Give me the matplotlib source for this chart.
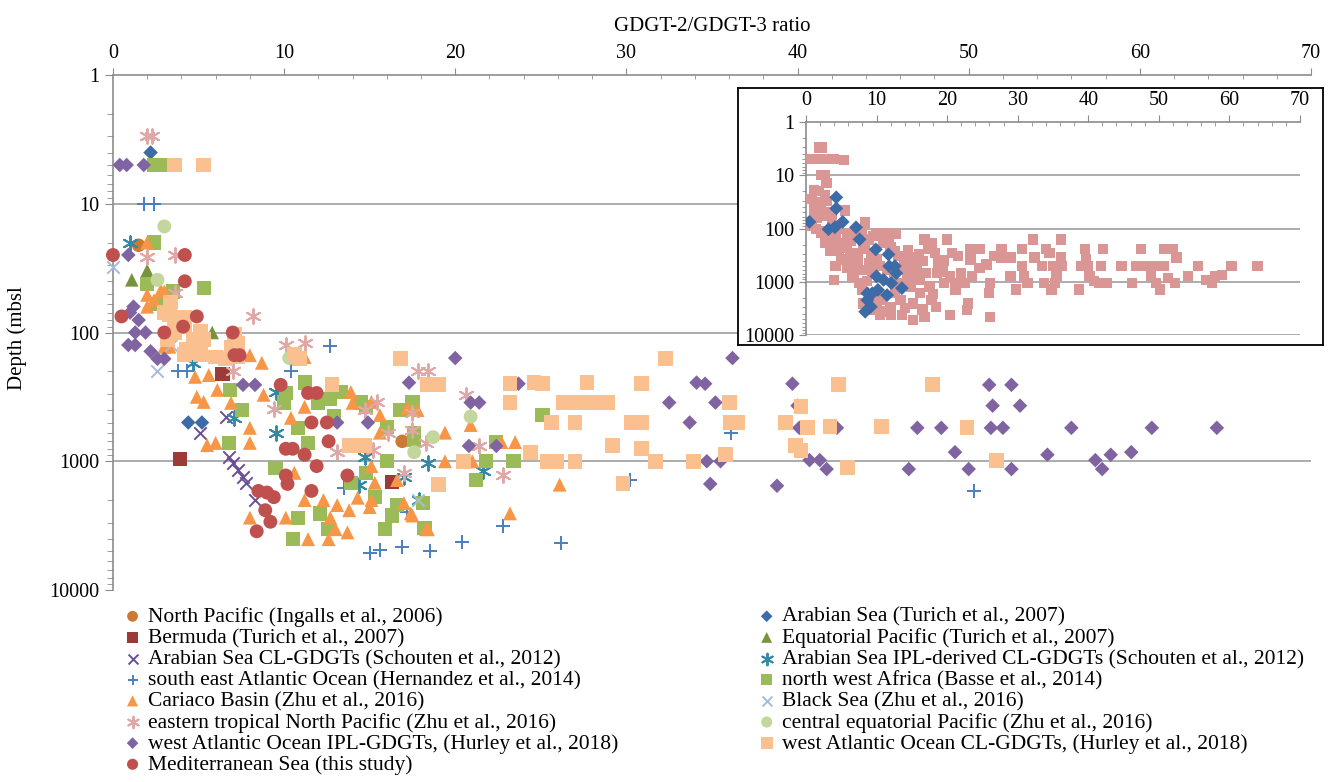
import numpy as np
import matplotlib.pyplot as plt
import matplotlib.ticker as mticker

plt.rcParams["font.family"] = ["Liberation Serif", "DejaVu Serif"]

# (GDGT-2/GDGT-3 ratio, depth in mbsl), one list per data set
north_pacific = [(1.5, 21), (16.9, 700)]
arabian_turich = [(2.2, 4), (4.4, 500), (5.2, 500)]
bermuda = [(6.4, 210), (3.9, 960), (16.3, 1450)]
eq_pacific = [(1.1, 39), (2.0, 33), (5.8, 100)]
arabian_cl = [(6.6, 450), (5.1, 600), (6.8, 925), (7.0, 1030), (7.3, 1165),
              (7.6, 1320), (7.8, 1470), (8.3, 2000)]
arabian_ipl = [(1.0, 20), (4.7, 172), (9.5, 290), (7.1, 460), (9.5, 600), (14.7, 920),
               (18.4, 1030), (21.6, 1200), (17.0, 1320), (14.4, 1530), (17.9, 2000)]
se_atlantic = [(1.8, 10), (2.4, 10), (12.7, 127), (3.8, 200), (4.3, 200), (10.4, 200),
               (36.1, 600), (30.2, 1400), (13.5, 1600), (50.3, 1700), (17.2, 2500),
               (22.8, 3200), (20.4, 4200), (26.2, 4300), (16.9, 4650), (15.6, 4900),
               (18.5, 5000), (15.0, 5200)]
nw_africa = [(2.4, 5), (3.0, 5), (2.4, 20), (5.3, 45), (2.0, 42), (3.5, 48), (2.6, 60),
             (6.85, 280), (7.55, 400), (6.8, 720), (11.2, 245), (10.1, 295), (10.0, 350),
             (10.8, 550), (11.4, 720), (12.7, 330), (13.3, 290), (12.9, 450), (14.5, 350),
             (16.0, 540), (17.5, 345), (16.8, 400), (17.6, 680), (16.0, 1000), (9.5, 1130),
             (13.9, 1470), (14.8, 1230), (15.3, 1900), (16.6, 2190), (16.3, 2640),
             (18.2, 3300), (15.9, 3370), (12.6, 3370), (12.1, 2540), (10.8, 2740),
             (10.5, 4030), (21.2, 1400), (21.8, 1000), (25.1, 437), (22.4, 708),
             (23.4, 1000), (18.1, 2110), (17.6, 600), (12.0, 350), (14.8, 380)]
cariaco = [(2.0, 20), (2.0, 51), (2.8, 47), (3.0, 48), (2.4, 56), (2.0, 63), (3.0, 129),
           (3.3, 129), (8.0, 150), (8.7, 172), (11.2, 155), (4.8, 221), (5.6, 214),
           (6.1, 279), (4.9, 316), (5.3, 346), (6.9, 352), (8.0, 550), (8.0, 720),
           (5.5, 750), (6.0, 720), (8.8, 305), (10.4, 460), (11.2, 378), (13.9, 290),
           (14.0, 352), (15.1, 346), (15.6, 437), (15.6, 600), (17.2, 385), (17.8, 400),
           (19.4, 600), (20.9, 523), (22.7, 710), (23.5, 710), (19.4, 1000), (21.0, 1000),
           (10.6, 1230), (15.1, 1090), (15.3, 1470), (14.3, 1920), (15.1, 2000),
           (15.0, 2270), (16.6, 1400), (17.0, 2110), (17.4, 2540), (18.3, 3370),
           (11.2, 2000), (12.3, 2000), (12.7, 2740), (13.0, 3370), (13.7, 3570),
           (12.6, 4030), (11.4, 4030), (10.1, 2740), (8.0, 2740), (13.1, 2190),
           (13.8, 2400), (26.1, 1520), (23.2, 2540), (17.5, 2640), (18.4, 3370),
           (20.7, 1000)]
black_sea = [(0.0, 31), (3.4, 125), (2.6, 200), (17.8, 2000)]
etnp = [(2.0, 3.0), (2.3, 3.0), (2.0, 26), (3.6, 25), (3.6, 49), (8.2, 75), (10.1, 125),
        (11.2, 120), (7.0, 200), (9.4, 390), (13.1, 850), (14.7, 400), (15.4, 345),
        (16.1, 600), (17.5, 420), (17.5, 570), (17.8, 200), (18.4, 200), (18.3, 720),
        (17.0, 1230), (20.6, 305), (21.4, 760), (22.8, 1270), (15.2, 820)]
central_eq_pacific = [(3.0, 15), (2.6, 39), (10.3, 158), (20.9, 450), (18.7, 650),
                      (17.6, 850)]
west_atl_ipl = [(0.4, 5), (0.8, 5), (1.8, 5), (0.9, 25), (1.2, 63), (1.0, 70), (1.5, 80),
                (1.3, 100), (1.9, 100), (0.9, 125), (1.3, 125), (2.2, 140), (2.6, 160),
                (3.0, 160), (7.6, 255), (8.3, 255), (13.1, 500), (14.9, 500), (17.3, 245),
                (20.0, 158), (20.9, 350), (21.4, 350), (20.8, 760), (22.4, 760),
                (23.7, 250), (32.5, 350), (33.7, 500), (34.1, 245), (34.6, 250),
                (36.2, 158), (35.2, 350), (34.7, 1000), (35.5, 1000), (34.9, 1500),
                (38.8, 1550), (39.7, 250), (40.0, 370), (40.1, 550), (42.3, 550),
                (40.7, 980), (41.3, 980), (41.7, 1150), (46.5, 1150), (47.0, 550),
                (48.4, 550), (49.2, 850), (50.0, 1150), (51.2, 255), (52.5, 255),
                (51.4, 370), (53.0, 370), (51.3, 550), (52.0, 550), (52.5, 1150),
                (54.6, 890), (56.0, 550), (57.4, 980), (57.8, 1150), (58.3, 890),
                (59.5, 850), (60.7, 550), (64.5, 550)]
west_atl_cl = [(3.6, 5), (5.3, 5), (3.35, 58), (3.3, 73), (4.2, 77), (3.0, 70), (3.6, 83),
               (4.2, 90), (3.6, 100), (5.1, 98), (5.3, 114), (3.2, 114), (4.7, 114),
               (7.1, 104), (7.3, 122), (4.3, 136), (4.9, 143), (4.2, 149), (5.1, 149),
               (6.0, 155), (6.6, 158), (7.3, 155), (6.9, 130), (10.6, 149), (10.9, 158),
               (12.8, 255), (16.8, 158), (18.4, 255), (19.0, 255), (13.8, 750),
               (14.7, 750), (20.5, 1000), (19.0, 1520), (23.2, 250), (24.6, 245),
               (25.1, 250), (27.7, 245), (30.9, 250), (32.3, 158), (23.2, 350),
               (26.3, 350), (26.8, 350), (27.5, 350), (28.2, 350), (28.9, 350),
               (25.6, 500), (27.0, 500), (30.3, 500), (30.9, 500), (36.0, 350),
               (36.1, 500), (36.5, 500), (39.3, 500), (29.2, 750), (30.9, 800),
               (24.4, 860), (25.4, 1000), (25.9, 1000), (27.0, 1000), (31.7, 1000),
               (33.9, 1000), (35.8, 880), (29.8, 1500), (39.9, 750), (42.4, 255),
               (47.9, 255), (40.2, 375), (40.6, 550), (41.9, 540), (44.9, 540),
               (49.9, 550), (40.2, 830), (42.9, 1120), (51.6, 980)]
mediterranean = [(0.0, 25), (4.2, 25), (4.2, 40), (0.5, 75), (4.9, 75), (4.1, 90),
                 (3.0, 100), (7.0, 100), (7.1, 150), (7.4, 150), (9.8, 255), (11.4, 295),
                 (11.9, 295), (11.6, 500), (12.5, 500), (12.6, 700), (10.1, 800),
                 (10.5, 800), (11.2, 890), (11.9, 1090), (13.7, 1290), (11.6, 1700),
                 (10.1, 1290), (10.2, 1500), (8.5, 1700), (9.0, 1750), (9.4, 1900),
                 (8.9, 2400), (9.2, 2950), (8.4, 3500)]

# inset: all literature data (pink) and Mediterranean (blue)
inset_literature = [
    (2.2, 3.0), (1.9, 3.0), (0.6, 5), (1.9, 5), (3.2, 5), (4.0, 5), (5.4, 5.2), (2.2, 10),
    (2.7, 10), (2.9, 14), (1.1, 19), (1.9, 20), (2.7, 24), (0.8, 28), (1.9, 32), (2.9, 30),
    (1.1, 40), (2.1, 43), (3.4, 50), (5.5, 46), (1.1, 53), (1.6, 62), (2.7, 57), (3.7, 66),
    (0.8, 89), (1.4, 103), (2.1, 120), (3.2, 148), (2.7, 185), (4.2, 160), (5.3, 185),
    (5.8, 230), (4.7, 245), (6.3, 305), (5.0, 380), (4.2, 510), (5.8, 550), (7.4, 380),
    (8.1, 245), (8.4, 77), (7.9, 120), (8.9, 160), (7.1, 285), (6.8, 680), (7.6, 1050),
    (7.9, 1400), (4.0, 920), (8.1, 2550), (10.0, 120), (10.8, 127), (11.3, 120),
    (12.8, 127), (11.0, 185), (11.8, 160), (12.6, 265), (13.1, 330), (13.9, 380),
    (14.7, 440), (15.2, 350), (14.4, 690), (15.7, 550), (15.7, 850), (16.8, 160),
    (17.3, 245), (17.8, 185), (18.3, 285), (18.8, 440), (17.0, 690), (18.6, 690),
    (17.5, 1220), (17.8, 2200), (18.4, 2950), (16.8, 4600), (15.2, 5300), (13.6, 4200),
    (12.1, 4200), (10.5, 4200), (10.0, 2550), (13.4, 2200), (15.2, 2550), (16.2, 1650),
    (14.9, 1220), (13.9, 1050), (20.0, 160), (20.7, 285), (21.5, 330), (19.4, 640),
    (20.4, 790), (21.2, 1050), (19.6, 1050), (21.2, 1400), (20.4, 4200), (23.0, 2550),
    (22.8, 3400), (22.5, 1050), (22.0, 690), (23.3, 245), (23.3, 380), (24.6, 245),
    (24.6, 550), (23.5, 790), (25.6, 475), (26.1, 1050), (25.9, 1650), (26.1, 4600),
    (27.7, 245), (27.7, 350), (26.7, 330), (29.0, 350), (29.0, 790), (29.8, 1400),
    (30.6, 245), (30.6, 510), (30.9, 790), (31.4, 1050), (32.2, 160), (32.4, 350),
    (33.5, 510), (34.0, 245), (34.5, 285), (35.0, 510), (33.7, 1050), (34.8, 1400),
    (35.3, 1050), (36.1, 160), (36.1, 350), (36.3, 510), (35.5, 790), (38.7, 1400),
    (39.5, 245), (39.7, 380), (40.0, 510), (39.0, 510), (40.2, 790), (40.8, 980),
    (41.8, 510), (42.1, 245), (41.5, 1050), (42.6, 1050), (44.7, 510), (46.2, 1050),
    (46.8, 510), (47.5, 245), (48.1, 510), (48.9, 790), (49.6, 1050), (50.2, 1400),
    (49.4, 510), (50.7, 245), (52.0, 245), (52.5, 350), (50.7, 510), (51.3, 850),
    (52.3, 1050), (54.1, 790), (55.6, 510), (56.7, 920), (57.5, 1050), (58.0, 790),
    (59.0, 740), (60.3, 510), (64.0, 510), (4.7, 103), (5.8, 120), (6.3, 170), (8.4, 210),
    (9.2, 285), (10.0, 380), (10.5, 510), (9.4, 690), (8.7, 980), (12.6, 1650),
    (10.8, 2200), (14.7, 850), (13.1, 1220), (16.5, 410), (16.2, 920), (6.0, 400),
    (7.0, 500), (8.0, 600), (9.0, 450), (6.5, 800), (11.5, 600), (12.5, 800), (13.5, 600),
    (3.5, 260), (2.5, 110), (6.5, 130), (9.5, 140), (12.0, 220), (14.5, 260), (16.0, 300),
    (10.5, 1800), (12.0, 3000), (14.0, 3100), (11.0, 3600), (9.5, 3300), (16.5, 3300),
    (18.0, 1700), (19.5, 400)]
inset_mediterranean = [(0.5, 75), (3.2, 103), (4.1, 95), (5.2, 75), (4.3, 26), (4.3, 42),
                       (7.1, 95), (7.6, 160), (9.9, 247), (11.7, 307), (11.8, 510),
                       (12.6, 510), (12.8, 690), (10.0, 790), (11.0, 920), (12.1, 1060),
                       (13.6, 1320), (8.7, 1650), (9.4, 1650), (10.2, 1420), (11.5, 1780),
                       (8.7, 2200), (9.2, 2950), (8.4, 3650)]

# legend order (Excel series order)
series = [
    (north_pacific, "North Pacific (Ingalls et al., 2006)", "o", "#CB7A34", 95),
    (arabian_turich, "Arabian Sea (Turich et al., 2007)", "D", "#3D6BA6", 55),
    (bermuda, "Bermuda (Turich et al., 2007)", "s", "#9A3B38", 105),
    (eq_pacific, "Equatorial Pacific (Turich et al., 2007)", "^", "#77933C", 95),
    (arabian_cl, "Arabian Sea CL-GDGTs (Schouten et al., 2012)", "x", "#6A4F95", 80),
    (arabian_ipl, "Arabian Sea IPL-derived CL-GDGTs (Schouten et al., 2012)", (6, 2, 0), "#3389A3", 110),
    (se_atlantic, "south east Atlantic Ocean (Hernandez et al., 2014)", "+", "#4A7EBF", 90),
    (nw_africa, "north west Africa (Basse et al., 2014)", "s", "#9BBB59", 105),
    (cariaco, "Cariaco Basin (Zhu et al., 2016)", "^", "#F79646", 100),
    (black_sea, "Black Sea (Zhu et al., 2016)", "x", "#A6BBDB", 80),
    (etnp, "eastern tropical North Pacific (Zhu et al., 2016)", (6, 2, 0), "#DFA7A6", 110),
    (central_eq_pacific, "central equatorial Pacific (Zhu et al., 2016)", "o", "#C3D69B", 100),
    (west_atl_ipl, "west Atlantic Ocean IPL-GDGTs, (Hurley et al., 2018)", "D", "#8064A2", 55),
    (west_atl_cl, "west Atlantic Ocean CL-GDGTs, (Hurley et al., 2018)", "s", "#FAC090", 115),
    (mediterranean, "Mediterranean Sea (this study)", "o", "#C0504D", 100),
]

grey = "#8C8C8C"
tick_size = 14.5
fig = plt.figure(figsize=(13.35, 7.82), dpi=100)
ax = fig.add_axes([0.0846, 0.2455, 0.8974, 0.6586])

handles = {}
for data, label, marker, color, size in series:
    x, d = np.array(data, dtype=float).T
    if marker in ("x", "+") or isinstance(marker, tuple):
        h = ax.scatter(x, d, s=size, marker=marker, color=color, linewidths=1.4,
                       label=label, zorder=3, clip_on=False)
    else:
        h = ax.scatter(x, d, s=size, marker=marker, color=color, edgecolors="none",
                       label=label, zorder=3, clip_on=False)
    handles[label] = h

ax.set_yscale("log")
ax.set_ylim(10000, 1)
ax.set_xlim(0, 70)
ax.set_yticks([1, 10, 100, 1000, 10000])
ax.yaxis.set_major_formatter(mticker.FuncFormatter(lambda v, p: f"{v:g}"))
ax.yaxis.set_minor_locator(mticker.LogLocator(subs=np.arange(2, 10)))
ax.yaxis.set_minor_formatter(mticker.NullFormatter())
ax.xaxis.tick_top()
ax.xaxis.set_label_position("top")
ax.set_xticks(range(0, 71, 10))
ax.xaxis.set_minor_locator(mticker.MultipleLocator(2))
ax.tick_params(labelsize=tick_size, colors="black")
ax.tick_params(axis="both", which="both", color=grey)
ax.tick_params(axis="x", which="major", direction="out", length=5)
ax.tick_params(axis="x", which="minor", direction="in", length=3)
ax.tick_params(axis="y", which="major", direction="out", length=6)
ax.tick_params(axis="y", which="minor", direction="out", length=4)
for side in ("right", "bottom"):
    ax.spines[side].set_visible(False)
for side in ("top", "left"):
    ax.spines[side].set_color(grey)
    ax.spines[side].set_linewidth(1.2)
for level in (10, 100, 1000):
    ax.axhline(level, color="#A6A6A6", lw=1.3, zorder=1)

ax.set_xlabel("GDGT-2/GDGT-3 ratio", fontsize=15)
ax.xaxis.set_label_coords(0.5, 1.085)
ax.set_ylabel("Depth (mbsl", fontsize=15)
ax.yaxis.set_label_coords(-0.072, 0.49)

# inset frame and axes
frame = fig.add_axes([0.5528, 0.5588, 0.4382, 0.3286], zorder=5)
frame.set_xticks([])
frame.set_yticks([])
frame.set_facecolor("white")
for sp in frame.spines.values():
    sp.set_color("black")
    sp.set_linewidth(1.3)

inset = fig.add_axes([0.6037, 0.5716, 0.370, 0.2724], zorder=6)
inset.set_facecolor("none")
xi, di = np.array(inset_literature, dtype=float).T
inset.scatter(xi, di, s=55, marker="s", color="#D99694", edgecolors="none", zorder=3)
xm, dm = np.array(inset_mediterranean, dtype=float).T
inset.scatter(xm, dm, s=50, marker="D", color="#3D6BA6", edgecolors="none", zorder=4)
inset.set_yscale("log")
inset.set_ylim(10000, 1)
inset.set_xlim(0, 70)
inset.set_yticks([1, 10, 100, 1000, 10000])
inset.yaxis.set_major_formatter(mticker.FuncFormatter(lambda v, p: f"{v:g}"))
inset.yaxis.set_minor_locator(mticker.LogLocator(subs=np.arange(2, 10)))
inset.yaxis.set_minor_formatter(mticker.NullFormatter())
inset.xaxis.tick_top()
inset.set_xticks(range(0, 71, 10))
inset.xaxis.set_minor_locator(mticker.MultipleLocator(2))
inset.tick_params(labelsize=tick_size, colors="black")
inset.tick_params(axis="both", which="both", color=grey)
inset.tick_params(axis="x", which="major", direction="out", length=5)
inset.tick_params(axis="x", which="minor", direction="in", length=3)
inset.tick_params(axis="y", which="major", direction="out", length=5)
inset.tick_params(axis="y", which="minor", direction="out", length=3)
for side in ("right", "bottom"):
    inset.spines[side].set_visible(False)
for side in ("top", "left"):
    inset.spines[side].set_color(grey)
    inset.spines[side].set_linewidth(1.2)
for level in (10, 100, 1000, 10000):
    inset.axhline(level, color="#A6A6A6", lw=1.3, zorder=1)

# legend in two columns, as in the original layout
labels = [s[1] for s in series]
left_labels = labels[0::2]
right_labels = labels[1::2]
common = dict(frameon=False, fontsize=15.5, handlelength=0.6, handletextpad=0.4,
              labelspacing=0.05, borderaxespad=0, scatterpoints=1, markerscale=0.8)
fig.legend([handles[l] for l in left_labels], left_labels, loc="upper left",
           bbox_to_anchor=(0.088, 0.235), **common)
fig.legend([handles[l] for l in right_labels], right_labels, loc="upper left",
           bbox_to_anchor=(0.563, 0.235), **common)

fig.savefig("out.png", dpi=100)
